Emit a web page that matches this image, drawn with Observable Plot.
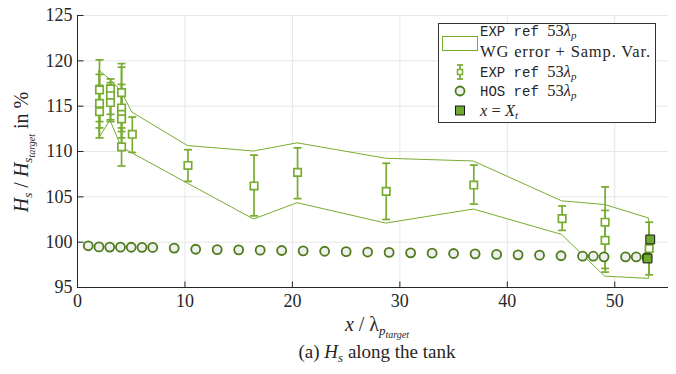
<!DOCTYPE html>
<html><head><meta charset="utf-8">
<script src="https://cdn.jsdelivr.net/npm/d3@7"></script>
<script src="https://cdn.jsdelivr.net/npm/@observablehq/plot@0.6"></script>
<style>body{margin:0;background:#fff;} #chart{width:676px;height:374px;}</style>
</head><body><div id="chart"></div>
<script>
// ---- data ----
const expX  = [2.05,2.05,2.05, 3.07,3.07,3.07, 4.1,4.1,4.1,4.1,4.1, 5.1, 10.28,16.43,20.48,28.73,36.88,45.1,49.1,49.1,53.2];
const expY  = [116.8,115.3,114.4, 116.9,116.15,115.4, 116.5,114.8,114.1,113.6,110.5, 111.9, 108.46,106.2,107.7,105.6,106.3,102.6,102.2,100.2,99.3];
const expLo = [113.3,112.6,111.5, 114.1,113.3,113.5, 113.3,112.2,111.5,110.9,108.4, 109.9, 106.7,102.9,104.8,102.5,104.2,101.3,97.1,96.7,96.4];
const expHi = [120.1,118.5,117.3, 118.0,117.6,117.3, 119.7,117.4,116.8,119.3,112.6, 113.8, 110.2,109.6,110.4,108.7,108.5,104.0,106.1,103.5,102.2];

const bandX  = [2.05,3.07,4.1,5.1,10.28,16.43,20.48,28.73,36.88,45.1,49.1,53.2];
const bandHi = [118.9,117.9,116.6,114.3,110.6,110.0,110.9,109.2,108.9,104.5,104.1,102.6];
const bandLo = [111.5,113.4,110.5,109.8,106.45,102.5,104.3,102.05,103.6,100.8,96.2,95.95];

const hosX = [1,2,3,4,5,6,7,9,11,13,15,17,19,21,23,25,27,29,31,33,35,37,39,41,43,45,47,48,49,51,52,53];
const hosY = [99.6,99.48,99.46,99.45,99.44,99.43,99.42,99.35,99.22,99.18,99.15,99.12,99.08,99.04,99.0,98.96,98.91,98.87,98.82,98.79,98.75,98.71,98.65,98.6,98.57,98.5,98.46,98.45,98.38,98.38,98.37,98.32];

const xtX = [53.3, 53.05];
const xtY = [100.3, 98.2];

const xTicks = [0,10,20,30,40,50];
const yTicks = [95,100,105,110,115,120,125];

// ---- tables ----
const exp  = expX.map((x,i)=>({x, y:expY[i], lo:expLo[i], hi:expHi[i]}));
const band = bandX.map((x,i)=>({x, lo:bandLo[i], hi:bandHi[i]}));
const hos  = hosX.map((x,i)=>({x, y:hosY[i]}));
const xt   = xtX.map((x,i)=>({x, y:xtY[i]}));

const G = "#77AC30", DG = "#4D7C1B", AX = "#262626", GRID = "#E6E6E6";
const capSym = {draw(c){ c.moveTo(-4,0); c.lineTo(4,0); }};
const xTickSym = {draw(c){ c.moveTo(0,0); c.lineTo(0,-6); }};
const yTickSym = {draw(c){ c.moveTo(0,0); c.lineTo(6,0); }};

const svg = Plot.plot({
  width: 676, height: 374,
  marginLeft: 77, marginRight: 8, marginTop: 15, marginBottom: 87,
  style: {fontFamily: "Liberation Serif", color: AX, background: "white"},
  x: {domain: [0,55], label: null},
  y: {domain: [95,125], label: null},
  marks: [
    Plot.gridX(xTicks.filter(t=>t>0), {stroke: GRID, strokeOpacity: 1}),
    Plot.gridY(yTicks.filter(t=>t>95), {stroke: GRID, strokeOpacity: 1}),
    Plot.areaY(band, {x:"x", y1:"lo", y2:"hi", fill:"white", stroke: G, strokeWidth: 1}),
    Plot.ruleX(exp, {x:"x", y1:"lo", y2:"hi", stroke: G, strokeWidth: 1.7}),
    Plot.dot(exp, {x:"x", y:"lo", symbol: capSym, r: 3, stroke: G, strokeWidth: 1.7}),
    Plot.dot(exp, {x:"x", y:"hi", symbol: capSym, r: 3, stroke: G, strokeWidth: 1.7}),
    Plot.dot(exp, {x:"x", y:"y", symbol: "square", r: 4.2, fill: "white", stroke: G, strokeWidth: 1.7}),
    Plot.dot(hos, {x:"x", y:"y", r: 4.5, fill: "#EFEFEF", stroke: DG, strokeWidth: 1.8}),
    Plot.dot(xt, {x:"x", y:"y", symbol: "square", r: 5, fill: "#6FA82E", stroke: "#1A1A1A", strokeWidth: 1}),
    Plot.ruleX([0], {stroke: AX, strokeWidth: 1}),
    Plot.ruleY([95], {stroke: AX, strokeWidth: 1}),
    Plot.dot(xTicks, {x: d=>d, y: 95, symbol: xTickSym, r: 3, stroke: AX, strokeWidth: 1}),
    Plot.dot(yTicks, {x: 0, y: d=>d, symbol: yTickSym, r: 3, stroke: AX, strokeWidth: 1}),
    Plot.axisX({ticks: xTicks, tickSize: 0, tickPadding: 7, fontSize: 18, fontFamily: "Liberation Serif", tickFormat: d=>String(d)}),
    Plot.axisY({ticks: yTicks, tickSize: 0, tickPadding: 5, fontSize: 18, fontFamily: "Liberation Serif", tickFormat: d=>String(d)})
  ]
});
document.getElementById("chart").appendChild(svg);

// ---- rich text helper ----
const S = d3.select(svg);
function rich(parent, x, y, parts, size, anchor){
  const t = parent.append("text").attr("x", x).attr("y", y)
    .attr("font-family", "Liberation Serif").attr("font-size", size)
    .attr("fill", AX).attr("text-anchor", anchor || "start");
  for (const p of parts){
    const s = t.append("tspan").text(p.t);
    if (p.i) s.attr("font-style", "italic");
    if (p.m) s.attr("font-family", "Liberation Mono");
    if (p.fs) s.attr("font-size", p.fs);
    if (p.dy) s.attr("dy", p.dy);
  }
  return t;
}

// y label
const yl = S.append("g").attr("transform", "translate(28,152) rotate(-90)");
rich(yl, 0, 0, [
  {t:"H", i:1}, {t:"s", i:1, fs:13, dy:4}, {t:" / ", dy:-4},
  {t:"H", i:1}, {t:"s", i:1, fs:13, dy:4}, {t:"target", i:1, fs:10, dy:3},
  {t:" in %", dy:-7}
], 20, "middle");

// x label
rich(S, 377, 331, [
  {t:"x", i:1}, {t:" / "}, {t:"λ"}, {t:"p", i:1, fs:13, dy:4}, {t:"target", i:1, fs:10, dy:3}
], 20, "middle");

// caption
rich(S, 377, 358, [
  {t:"(a) "}, {t:"H", i:1}, {t:"s", i:1, fs:13, dy:4}, {t:" along the tank", dy:-4}
], 19, "middle");

// ---- legend ----
const L = S.append("g");
L.append("rect").attr("x", 438.5).attr("y", 23.5).attr("width", 217).attr("height", 99)
  .attr("fill", "white").attr("stroke", "#333").attr("stroke-width", 1);
L.append("rect").attr("x", 442.5).attr("y", 36.5).attr("width", 35).attr("height", 14)
  .attr("fill", "white").attr("stroke", G).attr("stroke-width", 1);
const expLabel = [{t:"EXP ref ", m:1, fs:14}, {t:"53"}, {t:"λ", i:1}, {t:"p", i:1, fs:11, dy:3}];
rich(L, 480, 36, expLabel, 16.5);
rich(L, 480, 57, [{t:"WG error + Samp. Var."}], 16.5).attr("textLength", 170);
rich(L, 480, 77, expLabel, 16.5);
rich(L, 480, 96, [{t:"HOS ref ", m:1, fs:14}, {t:"53"}, {t:"λ", i:1}, {t:"p", i:1, fs:11, dy:3}], 16.5);
rich(L, 480, 116, [{t:"x", i:1}, {t:" = "}, {t:"X", i:1}, {t:"t", i:1, fs:11, dy:3}], 16.5);
// legend icons
L.append("line").attr("x1",460).attr("x2",460).attr("y1",65).attr("y2",79).attr("stroke",G).attr("stroke-width",1.7);
L.append("line").attr("x1",457).attr("x2",463).attr("y1",65).attr("y2",65).attr("stroke",G).attr("stroke-width",1.7);
L.append("line").attr("x1",457).attr("x2",463).attr("y1",79).attr("y2",79).attr("stroke",G).attr("stroke-width",1.7);
L.append("rect").attr("x",457.5).attr("y",69.5).attr("width",5).attr("height",5).attr("fill","white").attr("stroke",G).attr("stroke-width",1.5);
L.append("circle").attr("cx",460).attr("cy",91).attr("r",4.5).attr("fill","#EFEFEF").attr("stroke",DG).attr("stroke-width",1.8);
L.append("rect").attr("x",455.5).attr("y",106).attr("width",9).attr("height",9).attr("fill","#6FA82E").attr("stroke","#1A1A1A").attr("stroke-width",1);
</script>
</body></html>
